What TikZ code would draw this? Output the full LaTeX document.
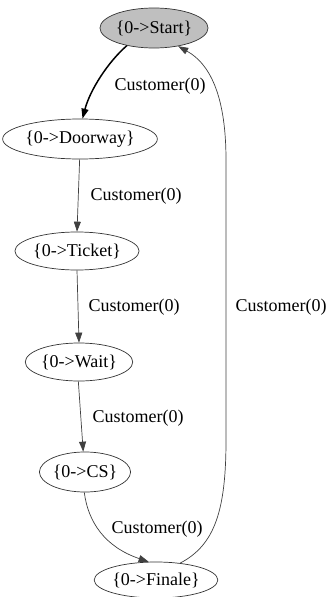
\documentclass[tikz,border=0pt]{standalone}
\usepackage{fontspec}
\setmainfont{Liberation Serif}
\usetikzlibrary{shapes.geometric,arrows.meta}
\begin{document}
\begin{tikzpicture}[x=1pt,y=-1pt,
  state/.style={draw=black!80,ellipse,line width=0.7pt,inner sep=0pt,font=\fontsize{18}{20}\selectfont},
  lbl/.style={font=\fontsize{18}{20}\selectfont,inner sep=0pt},
  edge/.style={draw=black!75,line width=0.7pt,-{Triangle[length=10pt,width=7pt]}},
  boldedge/.style={draw=black,line width=1.5pt,-{Triangle[length=10pt,width=7pt]}}]
\useasboundingbox (0,0) rectangle (328,597);
\node[state,fill=black!25,minimum width=98pt,minimum height=40pt] (start) at (154,28) {\{0->Start\}};
\node[state,minimum width=134pt,minimum height=40pt] (door) at (80,139) {\{0->Doorway\}};
\node[state,minimum width=112pt,minimum height=38pt] (ticket) at (77,251) {\{0->Ticket\}};
\node[state,minimum width=95pt,minimum height=38pt] (wait) at (79,362) {\{0->Wait\}};
\node[state,minimum width=90pt,minimum height=40pt] (cs) at (85,472) {\{0->CS\}};
\node[state,minimum width=112pt,minimum height=36pt] (fin) at (156,580) {\{0->Finale\}};
\node[lbl] (l1) at (160,86) {Customer(0)};
\node[lbl] (l2) at (136,196) {Customer(0)};
\node[lbl] (l3) at (134,307) {Customer(0)};
\node[lbl] (l4) at (138,418) {Customer(0)};
\node[lbl] (l5) at (157,529) {Customer(0)};
\node[lbl] (l6) at (281,307) {Customer(0)};
\draw[boldedge] (start.-147) .. controls (108,62) and (90,90) .. (door.83);
\draw[edge] (door.-91) -- (ticket.north);
\draw[edge] (ticket.-90) -- (wait.north);
\draw[edge] (wait.-92) -- (cs.95);
\draw[edge] (cs.-92) .. controls (88,522) and (105,547) .. (fin.112);
\draw[edge] (fin.35) .. controls (215,545) and (226,510) .. (226,440) -- (226,160) .. controls (226,100) and (212,65) .. (start.-37);
\end{tikzpicture}
\end{document}
